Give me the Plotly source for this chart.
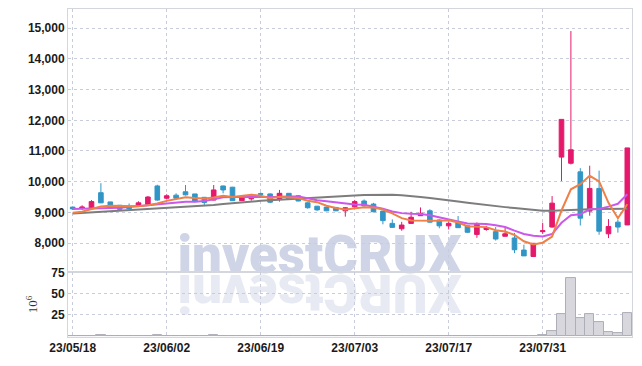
import plotly.graph_objects as go
from plotly.subplots import make_subplots

dates = ["23/05/18","23/05/19","23/05/22","23/05/23","23/05/24","23/05/25","23/05/26","23/05/30","23/05/31",
         "23/06/01","23/06/02","23/06/05","23/06/07","23/06/08","23/06/09","23/06/12","23/06/13","23/06/14",
         "23/06/15","23/06/16","23/06/19","23/06/20","23/06/21","23/06/22","23/06/23","23/06/26","23/06/27",
         "23/06/28","23/06/29","23/06/30","23/07/03","23/07/04","23/07/05","23/07/06","23/07/07","23/07/10",
         "23/07/11","23/07/12","23/07/13","23/07/14","23/07/17","23/07/18","23/07/19","23/07/20","23/07/21",
         "23/07/24","23/07/25","23/07/26","23/07/27","23/07/28","23/07/31","23/08/01","23/08/02","23/08/03",
         "23/08/04","23/08/07","23/08/08","23/08/09","23/08/10","23/08/11"]

open_ = [9170, 9140, 9130, 9640, 9340, 9230, 9170, 9200, 9260, 9860,
         9460, 9560, 9670, 9600, 9490, 9400, 9860, 9820, 9380, 9440,
         9610, 9600, 9435, 9620, 9540, 9310, 9200, 9170, 9160, 9050,
         9180, 9370, 9270, 9040, 8640, 8465, 8640, 8890, 9050, 8750,
         8560, 8660, 8560, 8280, 8440, 8370, 8220, 8165, 7770, 7560,
         8370, 8520, 10800, 10600, 10320, 9040, 9780, 8300, 8680, 8590]
high = [9190, 9230, 9400, 9950, 9340, 9230, 9290, 9360, 9530, 9900,
        9590, 9620, 9890, 9600, 9500, 9890, 9870, 9830, 9490, 9600,
        9650, 9620, 9730, 9620, 9560, 9330, 9210, 9180, 9170, 9170,
        9400, 9420, 9310, 9050, 8770, 8690, 9020, 9160, 9100, 8770,
        8700, 8880, 8580, 8670, 8560, 8520, 8510, 8330, 7945, 7990,
        8660, 9530, 12030, 14910, 10440, 10520, 10360, 8780, 8760, 11100]
low = [9080, 9080, 9100, 9300, 9120, 9080, 9100, 9180, 9250, 9380,
       9420, 9440, 9550, 9330, 9220, 9390, 9620, 9370, 9370, 9380,
       9570, 9300, 9350, 9420, 9360, 9120, 9050, 9040, 9040, 8860,
       9150, 9200, 9000, 8610, 8490, 8400, 8620, 8880, 8670, 8480,
       8440, 8490, 8330, 8170, 8400, 8080, 8210, 7670, 7580, 7560,
       8300, 8500, 10020, 10560, 8570, 8890, 8270, 8160, 8340, 8590]
close = [9110, 9170, 9350, 9310, 9140, 9100, 9120, 9310, 9500, 9400,
         9540, 9460, 9570, 9350, 9320, 9730, 9730, 9380, 9480, 9530,
         9590, 9330, 9620, 9435, 9370, 9150, 9080, 9050, 9050, 9150,
         9350, 9210, 9020, 8730, 8510, 8585, 8840, 8970, 8680, 8560,
         8640, 8500, 8350, 8610, 8490, 8130, 8300, 7780, 7580, 7990,
         8400, 9300, 12030, 11040, 8810, 9780, 8385, 8540, 8520, 11100]

ma5 = [8990, 9020, 9110, 9190, 9216, 9214, 9204, 9196, 9234, 9286,
       9374, 9442, 9494, 9464, 9448, 9486, 9540, 9502, 9528, 9570,
       9542, 9462, 9510, 9501, 9469, 9381, 9331, 9217, 9140, 9096,
       9136, 9162, 9156, 9092, 8964, 8811, 8737, 8727, 8717, 8727,
       8738, 8670, 8546, 8532, 8518, 8416, 8376, 8262, 8056, 7956,
       8010, 8210, 9060, 9752, 9916, 10192, 10009, 9311, 8807, 9265]
ma10 = [9110, 9115, 9120, 9130, 9140, 9150, 9170, 9200, 9230, 9251,
        9294, 9323, 9345, 9349, 9367, 9430, 9491, 9498, 9496, 9509,
        9514, 9501, 9506, 9515, 9520, 9462, 9397, 9364, 9321, 9283,
        9259, 9247, 9187, 9116, 9030, 8974, 8950, 8942, 8905, 8846,
        8775, 8704, 8637, 8625, 8622, 8576, 8522, 8403, 8293, 8236,
        8212, 8292, 8660, 8903, 8936, 9101, 9110, 9186, 9280, 9590]
ma60 = [8965, 8982, 9000, 9017, 9035, 9052, 9070, 9087, 9105, 9122,
        9140, 9157, 9175, 9192, 9210, 9240, 9270, 9300, 9330, 9360,
        9375, 9395, 9415, 9435, 9450, 9470, 9490, 9505, 9520, 9535,
        9550, 9565, 9575, 9585, 9575, 9555, 9535, 9500, 9465, 9420,
        9390, 9350, 9310, 9270, 9230, 9200, 9170, 9140, 9110, 9080,
        9050, 9055, 9060, 9065, 9085, 9100, 9110, 9115, 9120, 9120]

volume = [0.3, 0.3, 0.3, 1.0, 0.3, 0.3, 0.3, 0.3, 0.3, 1.0,
          0.3, 0.3, 0.3, 0.3, 0.3, 1.0, 0.3, 0.3, 0.3, 0.3,
          0.3, 0.3, 0.3, 0.3, 0.3, 0.3, 0.3, 0.3, 0.3, 0.3,
          0.3, 0.3, 0.3, 0.3, 0.3, 0.3, 0.3, 0.3, 0.3, 0.3,
          0.3, 0.3, 0.3, 0.3, 0.3, 0.3, 0.3, 0.3, 0.3, 0.3,
          1.5, 5.5, 25.5, 68.5, 21.0, 26.5, 16.5, 5.0, 3.5, 27.5]

price_ticks = [8000, 9000, 10000, 11000, 12000, 13000, 14000, 15000]
volume_ticks = [25, 50, 75]
date_tick_idx = [0, 10, 20, 30, 40, 50]

RED = "#e5196c"
BLUE = "#3196c6"
GRID = "#c9ccda"
BORDER = "#d4d6de"
TICKFONT = dict(family="Liberation Sans, Arial, sans-serif", size=12, color="#1a1a1a", weight="bold")

x = list(range(len(dates)))

fig = make_subplots(rows=2, cols=1, shared_xaxes=True, vertical_spacing=0)

fig.add_trace(go.Candlestick(
    x=x, open=open_, high=high, low=low, close=close,
    increasing=dict(line=dict(color=RED, width=1), fillcolor=RED),
    decreasing=dict(line=dict(color=BLUE, width=1), fillcolor=BLUE),
    showlegend=False, hoverinfo="skip"), row=1, col=1)
fig.add_trace(go.Scatter(x=x, y=ma60, mode="lines", line=dict(color="#7d7d7d", width=2),
                         showlegend=False, hoverinfo="skip"), row=1, col=1)
fig.add_trace(go.Scatter(x=x, y=ma10, mode="lines", line=dict(color="#cb58ea", width=2),
                         showlegend=False, hoverinfo="skip"), row=1, col=1)
fig.add_trace(go.Scatter(x=x, y=ma5, mode="lines", line=dict(color="#ee8048", width=2),
                         showlegend=False, hoverinfo="skip"), row=1, col=1)
fig.add_trace(go.Bar(x=x, y=volume, marker=dict(color="#d7d7dd", line=dict(color="#aeaeb8", width=1)),
                     showlegend=False, hoverinfo="skip"), row=2, col=1)

axis_common = dict(showgrid=True, gridcolor=GRID, griddash="dot", gridwidth=1,
                   showline=True, mirror=True, linecolor=BORDER, linewidth=1,
                   zeroline=False, ticks="", tickfont=TICKFONT, automargin=False)

fig.update_xaxes(range=[-0.5, len(dates) - 0.5], tickvals=date_tick_idx,
                 ticktext=[dates[i] for i in date_tick_idx], rangeslider=dict(visible=False),
                 **axis_common)
fig.update_xaxes(showticklabels=False, row=1, col=1)
fig.update_yaxes(**axis_common)
fig.update_yaxes(range=[7053, 15629], tickvals=price_ticks, tickformat=",d",
                 domain=[0.198, 1.0], row=1, col=1)
fig.update_yaxes(range=[-1, 75.5], tickvals=volume_ticks, domain=[0.0, 0.198],
                 title=dict(text="10<sup>6</sup>", standoff=10,
                            font=dict(family="Liberation Serif, serif", size=13, color="#333")),
                 row=2, col=1)

wm_font = dict(family="Roboto, Liberation Sans, sans-serif", size=53, weight=900)
fig.add_shape(type="rect", xref="paper", yref="paper", x0=0.2, x1=0.692, y0=0.212, y1=0.312,
              line=dict(width=0), fillcolor="rgba(0,0,0,0)", layer="below",
              label=dict(text="investCRUX", textposition="middle center",
                         font=dict(color="#cfd5e7", **wm_font)))
fig.add_shape(type="rect", xref="paper", yref="paper", x0=0.2, x1=0.692, y0=0.071, y1=0.171,
              line=dict(width=0), fillcolor="rgba(0,0,0,0)", layer="below",
              label=dict(text="XURCtsevni", textposition="middle center", textangle=180,
                         font=dict(color="#e7eaf2", **wm_font)))

fig.update_layout(width=634, height=358, margin=dict(l=60, r=10, t=1, b=29),
                  plot_bgcolor="white", paper_bgcolor="white", bargap=0,
                  showlegend=False, hovermode=False)

fig.write_html("out.html")
